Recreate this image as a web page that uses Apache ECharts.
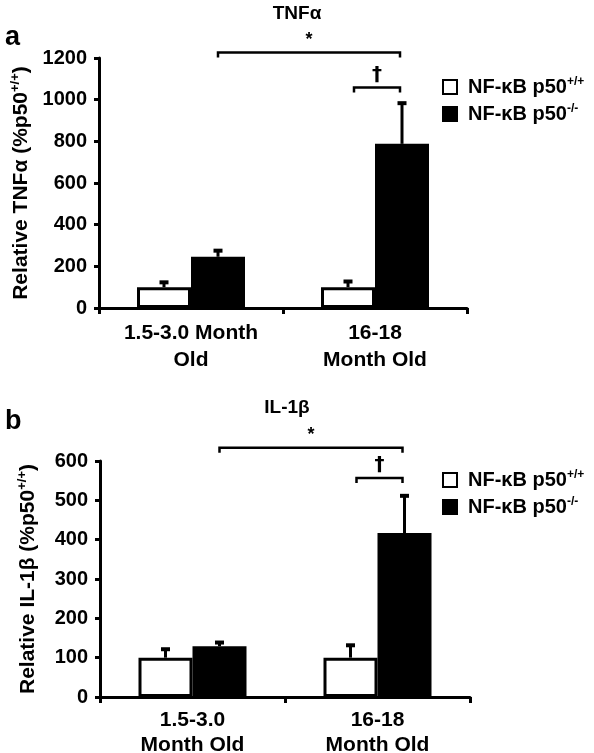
<!DOCTYPE html>
<html>
<head>
<meta charset="utf-8">
<script src="https://cdn.jsdelivr.net/npm/echarts@6/dist/echarts.min.js"></script>
<style>html,body{margin:0;padding:0;background:#fff}#c{width:594px;height:753px}</style>
</head>
<body>
<div id="c"></div>
<script>
// ---- data ----
const catsA = ['1.5-3.0 Month\nOld', '16-18\nMonth Old'];
const catsB = ['1.5-3.0\nMonth Old', '16-18\nMonth Old'];
const seriesNames = ['NF-κB p50+/+', 'NF-κB p50-/-'];
const tnfWild = [100, 100];
const tnfWildErrTop = [128, 132];
const tnfKO = [246, 788];
const tnfKOErrTop = [280, 988];
const ilWild = [100, 100];
const ilWildErrTop = [124, 134];
const ilKO = [129, 417];
const ilKOErrTop = [141, 514];
const yTicksA = [0, 1200, 200];
const yTicksB = [0, 600, 100];
// significance brackets: [fromCat, fromSide, toCat, toSide, level, mark]
const bracketsA = [[0, 1, 1, 1, 1226, '*'], [1, -1, 1, 1, 1058, '†']];
const bracketsB = [[0, 1, 1, 1, 634, '*'], [1, -1, 1, 1, 557, '†']];

const FONT = 'Liberation Sans, Arial, sans-serif';
const BW = 54;
const chart = echarts.init(document.getElementById('c'));

const nameRich = {
  b: {fontFamily: FONT, fontWeight: 'bold', fontSize: 21, color: '#000', lineHeight: 24},
  s: {fontFamily: FONT, fontWeight: 'bold', fontSize: 13, color: '#000', verticalAlign: 'top', lineHeight: 24}
};
function supText(base, sup) { return '{b|' + base + '}{s|' + sup + '}'; }
function legendFmt(name) {
  const sup = name.replace('NF-κB p50', '');
  return '{b|NF-κB p50}{s|' + sup + '}';
}
const legRich = {
  b: {fontFamily: FONT, fontWeight: 'bold', fontSize: 20, color: '#000', lineHeight: 22, padding: [0, 0, 0, 6]},
  s: {fontFamily: FONT, fontWeight: 'bold', fontSize: 12, color: '#000', verticalAlign: 'top', lineHeight: 22}
};

function errSeries(grid, vals, tops, side) {
  return {
    type: 'custom', xAxisIndex: grid, yAxisIndex: grid, z: 5,
    data: vals.map((v, i) => [i, v, tops[i], side]),
    encode: {x: 0, y: [1, 2]},
    renderItem: function (params, api) {
      const b = api.coord([api.value(0), api.value(1)]);
      const t = api.coord([api.value(0), api.value(2)]);
      const x = b[0] + api.value(3) * BW / 2;
      return {type: 'group', children: [
        {type: 'line', shape: {x1: x, y1: b[1], x2: x, y2: t[1]}, style: {stroke: '#000', lineWidth: 3}},
        {type: 'line', shape: {x1: x - 4.5, y1: t[1] + 1, x2: x + 4.5, y2: t[1] + 1}, style: {stroke: '#000', lineWidth: 4}}
      ]};
    }
  };
}
function bracketSeries(grid, list) {
  return {
    type: 'custom', xAxisIndex: grid, yAxisIndex: grid, z: 6, clip: false,
    data: list.map(d => d.slice(0, 5)),
    encode: {x: [0, 2], y: 4},
    renderItem: function (params, api) {
      const d = list[params.dataIndex];
      const p1 = api.coord([api.value(0), api.value(4)]);
      const p2 = api.coord([api.value(2), api.value(4)]);
      let x1 = p1[0] + api.value(1) * BW / 2;
      let x2 = p2[0] + api.value(3) * BW / 2;
      if (api.value(1) < 0) x1 += 6;
      x2 -= 2;
      const y = p1[1];
      const star = d[5] === '*';
      return {type: 'group', children: [
        {type: 'polyline', shape: {points: [[x1, y + 5], [x1, y], [x2, y], [x2, y + 5]]}, style: {stroke: '#000', lineWidth: 2.5, fill: null}},
        {type: 'text', x: (x1 + x2) / 2, y: star ? y - 4 : y - 3, style: {text: d[5], fontFamily: star ? FONT : 'DejaVu Sans', fontWeight: 'bold', fontSize: star ? 18 : 20, fill: '#000', align: 'center', verticalAlign: 'bottom'}}
      ]};
    }
  };
}
function xAxis(grid, cats, margin, lh) {
  return {
    type: 'category', gridIndex: grid, data: cats,
    axisLine: {lineStyle: {color: '#000', width: 3}},
    axisTick: {show: true, length: 6, lineStyle: {color: '#000', width: 3}},
    axisLabel: {fontFamily: FONT, fontWeight: 'bold', fontSize: 21, color: '#000', margin: margin, lineHeight: lh, interval: 0},
    splitLine: {show: false}
  };
}
function yAxis(grid, ticks, name, gap) {
  return {
    type: 'value', gridIndex: grid, min: ticks[0], max: ticks[1], interval: ticks[2],
    name: name, nameLocation: 'middle', nameRotate: 90, nameGap: gap,
    nameTextStyle: {rich: nameRich},
    axisLine: {show: true, lineStyle: {color: '#000', width: 3}},
    axisTick: {show: true, length: 5, lineStyle: {color: '#000', width: 3}},
    axisLabel: {fontFamily: FONT, fontWeight: 'bold', fontSize: 20, color: '#000', margin: 12, formatter: v => String(v)},
    splitLine: {show: false}
  };
}
function legend(top) {
  return {
    orient: 'vertical', left: 437, top: top, itemWidth: 14, itemHeight: 14, itemGap: 6,
    icon: 'rect', data: seriesNames, formatter: legendFmt,
    textStyle: {rich: legRich}, selectedMode: false
  };
}
const whiteStyle = {color: '#fff', borderColor: '#000', borderWidth: 3};
const blackStyle = {color: '#000', borderColor: '#000', borderWidth: 3};
const titleStyle = {fontFamily: FONT, fontWeight: 'bold', fontSize: 19, color: '#000'};

chart.setOption({
  animation: false,
  textStyle: {fontFamily: FONT},
  title: [
    {text: 'TNFα', left: 292, top: -1, textAlign: 'center', textStyle: titleStyle},
    {text: 'IL-1β', left: 282, top: 393, textAlign: 'center', textStyle: titleStyle},
    {text: 'a', left: 0, top: 19, textStyle: {fontFamily: FONT, fontWeight: 'bold', fontSize: 27, color: '#000'}},
    {text: 'b', left: 0, top: 403, textStyle: {fontFamily: FONT, fontWeight: 'bold', fontSize: 27, color: '#000'}}
  ],
  legend: [legend(71), legend(464)],
  grid: [
    {left: 99, top: 58, width: 368, height: 250, outerBoundsMode: 'none'},
    {left: 100, top: 461, width: 370, height: 236, outerBoundsMode: 'none'}
  ],
  xAxis: [xAxis(0, catsA, 12, 27), xAxis(1, catsB, 11, 25)],
  yAxis: [
    yAxis(0, yTicksA, supText('Relative TNFα (%p50', '+/+') + '{b|)}', 60),
    yAxis(1, yTicksB, supText('Relative IL-1β (%p50', '+/+') + '{b|)}', 60)
  ],
  series: [
    {name: seriesNames[0], type: 'bar', xAxisIndex: 0, yAxisIndex: 0, data: tnfWild, barWidth: BW, barGap: '0%', itemStyle: whiteStyle},
    {name: seriesNames[1], type: 'bar', xAxisIndex: 0, yAxisIndex: 0, data: tnfKO, barWidth: BW, barGap: '0%', itemStyle: blackStyle},
    {name: seriesNames[0], type: 'bar', xAxisIndex: 1, yAxisIndex: 1, data: ilWild, barWidth: BW, barGap: '0%', itemStyle: whiteStyle},
    {name: seriesNames[1], type: 'bar', xAxisIndex: 1, yAxisIndex: 1, data: ilKO, barWidth: BW, barGap: '0%', itemStyle: blackStyle},
    errSeries(0, tnfWild, tnfWildErrTop, -1),
    errSeries(0, tnfKO, tnfKOErrTop, 1),
    errSeries(1, ilWild, ilWildErrTop, -1),
    errSeries(1, ilKO, ilKOErrTop, 1),
    bracketSeries(0, bracketsA),
    bracketSeries(1, bracketsB)
  ]
});
</script>
</body>
</html>
